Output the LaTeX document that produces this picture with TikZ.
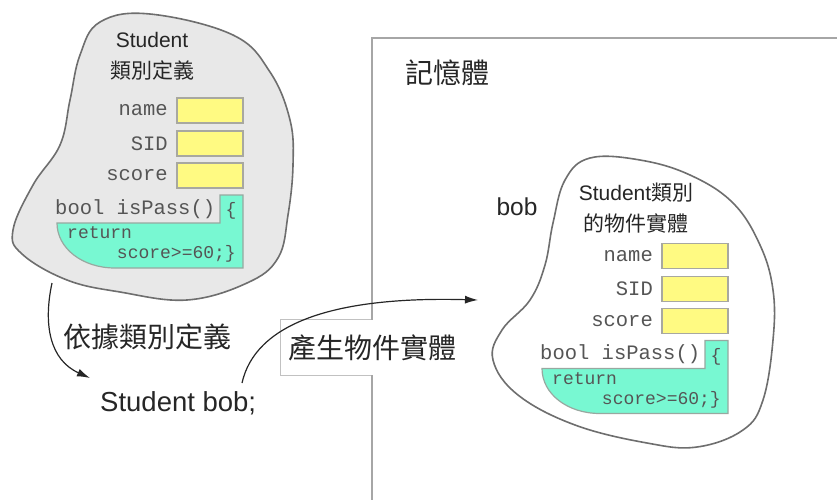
\documentclass[tikz,border=0pt]{standalone}
\usepackage{fontspec}
\setmainfont{Liberation Sans}
\setmonofont{Liberation Mono}
\newfontfamily\cjk{Noto Sans CJK TC}
\usetikzlibrary{arrows.meta}
\definecolor{blobfill}{HTML}{E8E8E8}
\definecolor{blobline}{HTML}{6E6E6E}
\definecolor{fieldfill}{HTML}{FFFA82}
\definecolor{fieldline}{HTML}{A8A8A0}
\definecolor{codefill}{HTML}{78F8D2}
\definecolor{codeline}{HTML}{98A8A0}
\definecolor{memline}{HTML}{A6A6A6}
\definecolor{ink}{HTML}{262626}
\definecolor{monoink}{HTML}{555555}
\tikzset{
  field/.style={draw=fieldline, fill=fieldfill, line width=1.2, minimum width=66, minimum height=25, inner sep=0},
  lbl/.style={font=\ttfamily\fontsize{20.5}{22}\selectfont, text=monoink, inner sep=0},
  codetxt/.style={font=\ttfamily\fontsize{18}{20}\selectfont, text=monoink, inner sep=0},
  codeshape/.style={draw=codeline, fill=codefill, line width=1.2},
  blob/.style={draw=blobline, line width=1.6},
  title/.style={font=\fontsize{21}{24}\selectfont, text=ink, inner sep=0},
  bigtxt/.style={font=\fontsize{27.5}{30}\selectfont, text=ink, inner sep=0},
  bigcjk/.style={font=\cjk\fontsize{28}{30}\selectfont, text=ink, inner sep=0},
  membox/.style={draw=memline, line width=1.8, inner sep=0},
  conn/.style={draw=ink, line width=1.2, -{Latex[length=13,width=8]}},
  classbody/.pic={
    \node[field] (-namebox) at (210,110.5) {};
    \node[field] (-sidbox) at (210,143.5) {};
    \node[field] (-scorebox) at (210,175.5) {};
    \node[lbl, anchor=east] (-namelbl) at (168,110.5) {name};
    \node[lbl, anchor=east] (-sidlbl) at (168,143.5) {SID};
    \node[lbl, anchor=east] (-scorelbl) at (168,175.5) {score};
    \path[codeshape] (220,195) -- (243,195) -- (243,268) -- (115,268)
       .. controls (82,268) and (57,248) .. (57,223) -- (220,223) -- cycle;
    \node[lbl, anchor=west] (-method) at (55,209) {bool isPass()};
    \node[codetxt] (-brace) at (231,211) {\{};
    \node[codetxt, anchor=west] (-ret) at (67,233) {return};
    \node[codetxt, anchor=east] (-expr) at (236,254) {score>=60;\}};
  }
}
\begin{document}
\begin{tikzpicture}[x=1pt,y=-1pt]
\useasboundingbox (0,0) rectangle (837,499);
% memory box
\node[membox, anchor=north west, minimum width=500, minimum height=480] (mem) at (371,37) {};
\node[bigcjk, anchor=west] (memlbl) at (405,73) {記憶體};
% left class-definition blob
\draw[blob, fill=blobfill] plot[smooth cycle, tension=0.65] coordinates {
  (100,22) (150,14) (233,35) (270,72) (290,120) (293,165) (288,215) (278,258)
  (247,283) (187,300) (120,292) (67,280) (22,254) (13,230) (33,185) (60,145)
  (70,100) (80,55)};
\node[title] (ltitle1) at (152,40) {Student};
\node[title] (ltitle2) at (152,70) {\cjk 類別定義};
\pic (L) at (0,0) {classbody};
% right object blob
\draw[blob, fill=white] plot[smooth cycle, tension=0.65] coordinates {
  (553,223) (565,180) (590,158) (640,160) (690,175) (733,203) (760,245)
  (773,290) (773,340) (763,400) (743,430) (697,447) (647,443) (575,425)
  (518,395) (493,360) (502,330) (530,300) (545,265)};
\node[title] (rtitle1) at (636,193) {Student\cjk 類別};
\node[title] (rtitle2) at (636,223) {\cjk 的物件實體};
\node[font=\fontsize{24.5}{26}\selectfont, text=ink, inner sep=0] (bob) at (517,207) {bob};
\pic (R) at (485,145.5) {classbody};
% declaration
\node[bigtxt, anchor=west] (decl) at (100,403) {Student bob;};
\node[bigcjk, anchor=west] (bydef) at (63,337) {\cjk 依據類別定義};
% label box
\node[bigcjk, fill=white, anchor=west, minimum height=55, inner xsep=8] (make) at (280,347.5) {產生物件實體};
\draw[draw=memline!70, line width=1] (make.north west -| mem.west) -- (make.north west) -- (make.south west) -- (make.south west -| mem.west);
% connectors
\coordinate (a1s) at (52,283);
\coordinate (a1e) at (90,378);
\coordinate (a2s) at (242,383);
\coordinate (a2e) at (478,300);
\draw[conn] (a1s) .. controls (43,325) and (50,360) .. (a1e);
\draw[conn] (a2s) .. controls (255,325) and (330,296) .. (a2e);
\end{tikzpicture}
\end{document}
